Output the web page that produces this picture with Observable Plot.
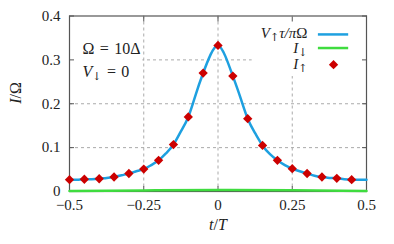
<!DOCTYPE html>
<html><head><meta charset="utf-8">
<script src="https://cdn.jsdelivr.net/npm/d3@7"></script>
<script src="https://cdn.jsdelivr.net/npm/@observablehq/plot@0.6"></script>
<style>
body{margin:0;background:#fff}
svg, svg text, svg g{font-family:"Liberation Serif",serif}
</style>
</head><body><div id="chart"></div>
<script>
// ---- data ----
const tDots = [-0.5,-0.45,-0.4,-0.35,-0.3,-0.25,-0.2,-0.15,-0.1,-0.05,0,0.05,0.1,0.15,0.2,0.25,0.3,0.35,0.4,0.45];
const iUp   = [0.027,0.028,0.029,0.033,0.041,0.051,0.071,0.107,0.170,0.270,0.333,0.263,0.166,0.105,0.071,0.052,0.041,0.033,0.030,0.027];

const tCurve = [-0.5,-0.475,-0.45,-0.425,-0.4,-0.375,-0.35,-0.325,-0.3,-0.275,-0.25,-0.225,-0.2,-0.175,-0.15,-0.125,-0.1,-0.075,-0.05,-0.025,0,0.025,0.05,0.075,0.1,0.125,0.15,0.175,0.2,0.225,0.25,0.275,0.3,0.325,0.35,0.375,0.4,0.425,0.45,0.475,0.5];
const vUp    = [0.027,0.027,0.028,0.028,0.029,0.031,0.033,0.037,0.041,0.046,0.051,0.060,0.071,0.087,0.107,0.137,0.170,0.221,0.270,0.312,0.333,0.308,0.263,0.215,0.166,0.133,0.105,0.085,0.071,0.060,0.052,0.046,0.041,0.036,0.033,0.031,0.030,0.028,0.027,0.027,0.027];

const tDown = [-0.5,-0.25,0,0.25,0.5];
const iDown = [0.0013,0.0025,0.0036,0.003,0.0014];

const xTicks = [-0.5,-0.25,0,0.25,0.5];
const xTickLabels = ["−0.5","−0.25","0","0.25","0.5"];
const yTicks = [0,0.1,0.2,0.3,0.4];
const yTickLabels = ["0","0.1","0.2","0.3","0.4"];
const xGrid = [-0.25,0,0.25];
const yGrid = [0.1,0.2,0.3];

const legendLabels = ["V↑τ/πΩ","I↓","I↑"];
const noteLabels = ["Ω = 10Δ","V↓ = 0"];

// ---- styling / layout ----
const FONT = "Liberation Serif, serif";
const BLUE = "#1ea0e0", GREEN = "#3fdc3f", RED = "#cc0000";
const curveRows = tCurve.map((t,i)=>({t, v:vUp[i]}));
const dotRows = tDots.map((t,i)=>({t, v:iUp[i]}));
const downRows = tDown.map((t,i)=>({t, v:iDown[i]}));

const legendY = [0.359,0.326,0.289];
const legendRows = legendLabels.map((s,i)=>({s, y:legendY[i]}));
const noteRows = [{s:noteLabels[0], y:0.326},{s:noteLabels[1], y:0.272}];

const gridStyle = {stroke:"#aaa", strokeOpacity:1, strokeDasharray:"3,3", strokeWidth:1};

const chart = Plot.plot({
  width:394, height:244,
  marginLeft:69, marginRight:28, marginTop:15.5, marginBottom:53,
  style:{fontFamily:FONT, fontSize:"15px", background:"white", color:"#222"},
  x:{domain:[-0.5,0.5]},
  y:{domain:[0,0.4]},
  marks:[
    Plot.gridX(xGrid, gridStyle),
    Plot.gridY(yGrid, gridStyle),
    // opaque boxes behind the key and the note (as in the reference)
    Plot.rect([{x1:0.115,x2:0.5,y1:0.262,y2:0.4}], {x1:"x1",x2:"x2",y1:"y1",y2:"y2", fill:"white"}),
    Plot.rect([{x1:-0.5,x2:-0.253,y1:0.245,y2:0.36}], {x1:"x1",x2:"x2",y1:"y1",y2:"y2", fill:"white"}),
    // axes: labels
    Plot.axisX(xTicks, {anchor:"bottom", tickSize:0, tickPadding:8, tickFormat:d=>xTickLabels[xTicks.indexOf(d)], fontSize:15, fontFamily:FONT}),
    Plot.axisY(yTicks, {anchor:"left", tickSize:0, tickPadding:9, tickFormat:d=>yTickLabels[yTicks.indexOf(d)], fontSize:15, fontFamily:FONT}),
    // inward ticks
    Plot.axisX(xTicks, {anchor:"bottom", tickSize:-5, tickFormat:()=>"", stroke:"#555"}),
    Plot.axisX(xTicks, {anchor:"top", tickSize:-5, tickFormat:()=>"", stroke:"#555"}),
    Plot.axisY(yTicks, {anchor:"left", tickSize:-5, tickFormat:()=>"", stroke:"#555"}),
    Plot.axisY(yTicks, {anchor:"right", tickSize:-5, tickFormat:()=>"", stroke:"#555"}),
    Plot.frame({stroke:"#555", strokeWidth:1.2}),
    // data
    Plot.line(downRows, {x:"t", y:"v", stroke:GREEN, strokeWidth:2.5, curve:"natural"}),
    Plot.line(curveRows, {x:"t", y:"v", stroke:BLUE, strokeWidth:2.5, curve:"natural"}),
    Plot.dot(dotRows, {x:"t", y:"v", symbol:"diamond2", r:4.2, fill:RED, stroke:null}),
    // note text
    Plot.text(noteRows, {x:()=>-0.456, y:"y", text:"s", textAnchor:"start", fontSize:16, fontFamily:FONT, fill:"#222"}),
    // key
    Plot.text(legendRows, {x:()=>0.301, y:"y", text:"s", textAnchor:"end", fontSize:15, lineHeight:0.9, fontFamily:FONT, fill:"#222"}),
    Plot.ruleY([legendY[0]-0.001], {x1:0.338, x2:0.44, stroke:BLUE, strokeWidth:2.5}),
    Plot.ruleY([legendY[1]+0.001], {x1:0.338, x2:0.44, stroke:GREEN, strokeWidth:2.5}),
    Plot.dot([legendY[2]], {x:()=>0.389, y:d=>d, symbol:"diamond2", r:4.2, fill:RED}),
    // axis titles
    Plot.text(["I/Ω"], {frameAnchor:"left", dx:-54, rotate:-90, fontSize:16, fontFamily:FONT, fill:"#222"}),
    Plot.text(["t/T"], {frameAnchor:"bottom", dy:38, fontSize:16, fontFamily:FONT, fill:"#222"})
  ]
});
document.getElementById("chart").appendChild(chart);

// rich-text formatting (italics, subscripts, math spacing)
const rich = {
  "V↑τ/πΩ": [["V","i"],["↑","sub"],["τ/π","i"],["Ω",""]],
  "I↓": [["I","i"],["↓","sub"]],
  "I↑": [["I","i"],["↑","sub"]],
  "Ω = 10Δ": [["Ω",""],["\u2004=\u200410Δ",""]],
  "V↓ = 0": [["V","i"],["↓","sub"],["\u2004=\u20040",""]],
  "I/Ω": [["I","i"],["/Ω",""]],
  "t/T": [["t","i"],["/",""],["T","i"]]
};
const NS = "http://www.w3.org/2000/svg";
chart.querySelectorAll("text").forEach(t=>{
  const spec = rich[t.textContent];
  if(!spec) return;
  t.textContent = "";
  let shifted = false;
  for(const [s,st] of spec){
    const ts = document.createElementNS(NS,"tspan");
    ts.textContent = s;
    if(st==="i") ts.setAttribute("font-style","italic");
    if(st==="sub"){ ts.setAttribute("font-size","11px"); ts.setAttribute("font-family","DejaVu Serif"); ts.setAttribute("dy","3"); shifted = true; }
    else if(shifted){ ts.setAttribute("dy","-3"); shifted = false; }
    t.appendChild(ts);
  }
});
</script>
</body></html>
